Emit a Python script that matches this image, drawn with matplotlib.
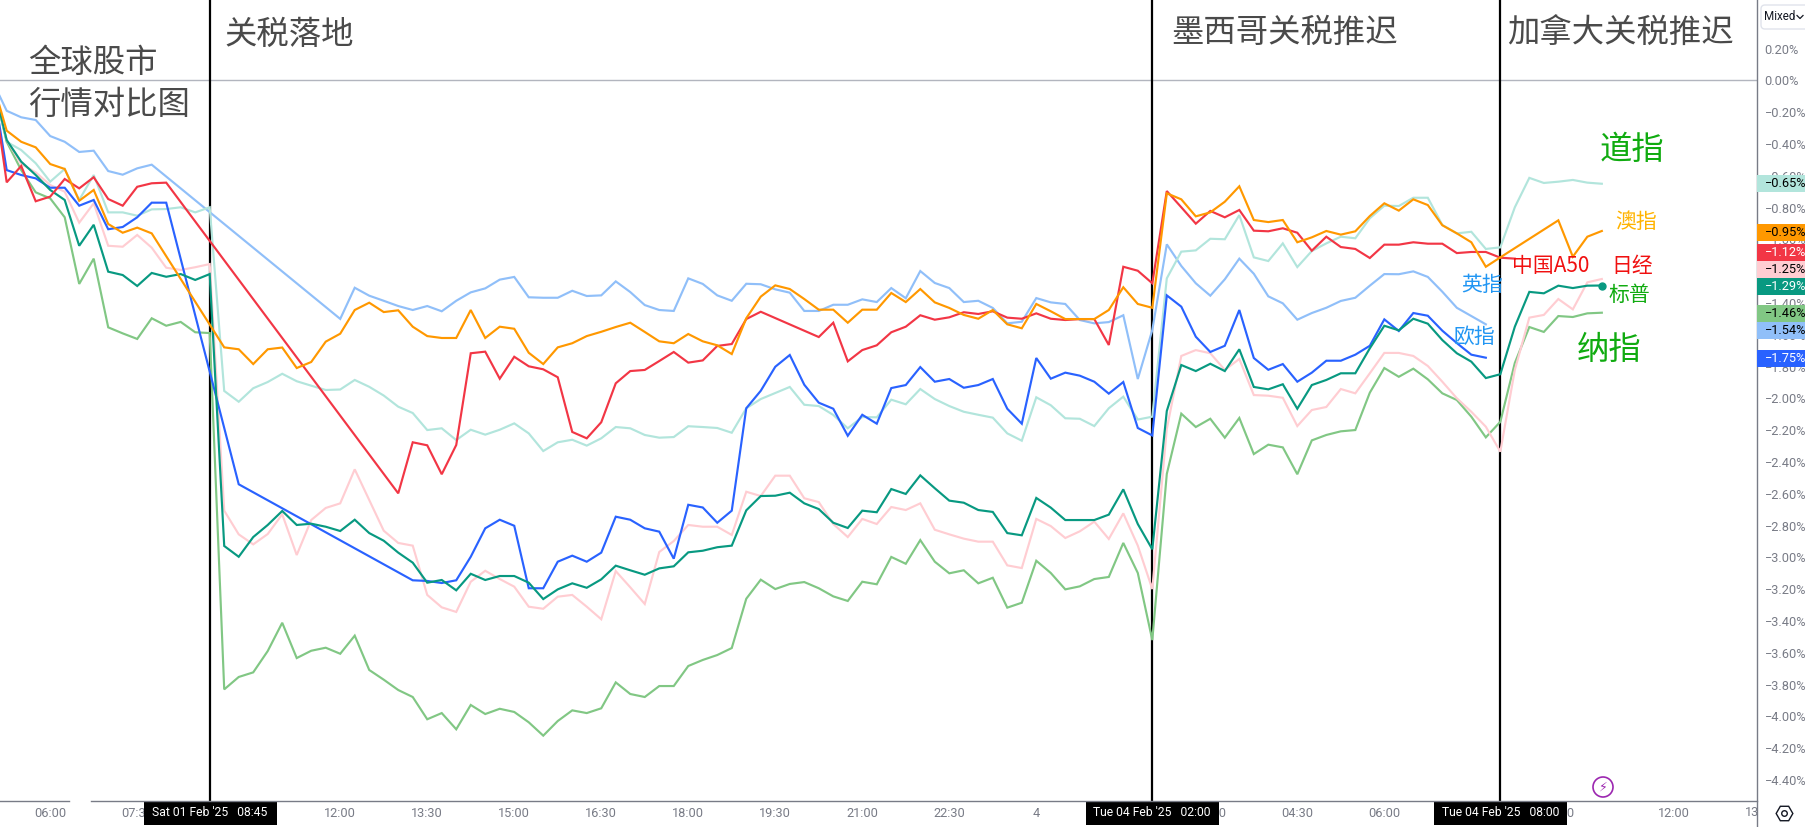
#!/usr/bin/env python3
# -*- coding: utf-8 -*-
"""
Global index comparison, 15 min bars, in % change
"""
import numpy as np
import matplotlib.pyplot as plt
from matplotlib.patches import Rectangle, Circle, FancyBboxPatch

plt.rcParams['font.family'] = ['Noto Sans CJK SC', 'DejaVu Sans']

#%% Values, one per 15 min bar, None = no bar for that market
dow = [0, -.386, -.438, -.521, -.637, -.557, -.752, -.595, -.830, -.830,
       -.851, -.811, -.809, -.798, -.830, -.798, -1.953, -2.021, -1.936, -1.897,
       -1.845, -1.892, -1.920, -1.947, -1.944, -1.884, -1.927, -1.982, -2.052, -2.092,
       -2.199, -2.188, -2.262, -2.197, -2.228, -2.197, -2.157, -2.220, -2.331, -2.276,
       -2.260, -2.297, -2.251, -2.180, -2.188, -2.230, -2.247, -2.243, -2.175, -2.180,
       -2.186, -2.216, -2.062, -2.004, -1.966, -1.928, -2.040, -2.048, -2.104, -2.188,
       -2.117, -2.119, -2.008, -2.037, -1.941, -2.004, -2.048, -2.084, -2.103, -2.121,
       -2.220, -2.266, -1.993, -2.043, -2.125, -2.128, -2.174, -2.062, -1.989, -2.133,
       -2.115, -1.245, -1.077, -1.069, -.996, -.999, -.847, -1.113, -1.136, -1.025,
       -1.174, -1.073, -1.025, -.983, -.993, -.867, -.788, -.790, -.738, -.738,
       -.909, -.962, -.952, -1.060, -1.050, -.798, -.613, -.645, -.637, -.626, -.643, -.650]

asx = [0, -.316, -.386, -.421, -.526, -.557, -.757, -.689, -.903, -.958,
       -.926, -.962, None, None, None, None, -1.679, -1.691, -1.784, -1.691,
       -1.680, -1.809, -1.771, -1.643, -1.593, -1.444, -1.398, -1.457, -1.446, -1.549,
       -1.608, -1.620, -1.620, -1.444, -1.620, -1.549, -1.562, -1.713, -1.784, -1.679,
       -1.653, -1.608, -1.581, -1.551, -1.524, -1.582, -1.641, -1.653, -1.595, -1.641,
       -1.666, -1.721, -1.496, -1.360, -1.289, -1.312, -1.375, -1.442, -1.442, -1.524,
       -1.442, -1.442, -1.337, -1.394, -1.312, -1.396, -1.431, -1.475, -1.499, -1.444,
       -1.534, -1.559, -1.406, -1.452, -1.501, -1.501, -1.501, -1.444, -1.301, -1.406,
       -1.430, -.710, -.748, -.855, -.830, -.763, -.666, -.878, -.891, -.878,
       -1.018, -.987, -.947, -.970, -.949, -.853, -.773, -.819, -.748, -.784,
       -.911, -.962, -1.018, -1.172, -1.113, None, None, None, -.880, -1.109, -.983, -.947]

a50 = [0, -.641, -.538, -.760, -.731, -.620, -.679, -.609, -.746, -.788,
       -.669, -.647, -.643] + [None] * 15 + [-2.597, -2.276,
       -2.295, -2.477, -2.293, -1.716, -1.706, -1.876, -1.738, -1.798, -1.817, -1.867,
       -2.211, -2.251, -2.150, -1.905, -1.828, -1.821, -1.765, -1.708, -1.775, -1.761,
       -1.670, -1.658, -1.501, -1.455, None, None, None, -1.614, -1.524, -1.767,
       -1.696, -1.666, -1.584, -1.549, -1.477, -1.505, -1.490, -1.458, -1.469, -1.452,
       -1.492, -1.499, -1.465, -1.499, -1.507, -1.501, -1.501, -1.664, -1.172, -1.197,
       -1.276, -.696, -.798, -.901, -.821, -.861, -.815, -.945, -.949, -.930,
       -.958, -1.071, -.983, -1.048, -1.060, -1.117, -1.033, -1.033, -1.018, -1.027,
       -1.027, -1.086, -1.079, -1.079, -1.115, -1.121]

nikkei = [0, -.375, -.526, -.578, -.658, -.700, -.895, -.773, -1.040, -1.046,
          -.972, -1.052, -1.178, -1.192, -1.175, -1.155, -2.706, -2.855, -2.918, -2.853,
          -2.729, -2.985, -2.765, -2.689, -2.660, -2.446, -2.639, -2.832, -2.909, -2.926,
          -3.236, -3.314, -3.343, -3.153, -3.084, -3.136, -3.184, -3.310, -3.323, -3.247,
          -3.236, -3.310, -3.389, -3.086, -3.188, -3.293, -2.966, -2.897, -2.796, -2.807,
          -2.807, -2.859, -2.587, -2.614, -2.486, -2.486, -2.628, -2.652, -2.790, -2.872,
          -2.758, -2.790, -2.683, -2.702, -2.660, -2.826, -2.855, -2.882, -2.901, -2.901,
          -3.050, -3.067, -2.758, -2.803, -2.878, -2.836, -2.775, -2.884, -2.723, -2.926,
          -3.199, -2.192, -1.733, -1.696, -1.716, -1.821, -1.752, -1.979, -1.983, -1.996,
          -2.174, -2.073, -2.054, -1.941, -1.968, -1.842, -1.714, -1.714, -1.733, -1.796,
          -1.895, -1.999, -2.084, -2.178, -2.335, -1.821, -1.492, -1.475, -1.375, -1.440, -1.270, -1.249]

spx = [0, -.375, -.511, -.595, -.689, -.752, -1.040, -.908, -1.203, -1.224,
       -1.293, -1.211, -1.235, -1.218, -1.255, -1.218, -2.928, -2.996, -2.872, -2.796,
       -2.708, -2.796, -2.788, -2.807, -2.834, -2.763, -2.847, -2.895, -2.970, -3.033,
       -3.159, -3.142, -3.207, -3.103, -3.142, -3.117, -3.117, -3.159, -3.262, -3.201,
       -3.163, -3.191, -3.138, -3.052, -3.081, -3.109, -3.069, -3.056, -2.968, -2.958,
       -2.936, -2.926, -2.704, -2.614, -2.612, -2.593, -2.660, -2.696, -2.782, -2.815,
       -2.706, -2.716, -2.570, -2.601, -2.484, -2.565, -2.643, -2.656, -2.702, -2.714,
       -2.847, -2.861, -2.626, -2.687, -2.765, -2.765, -2.765, -2.731, -2.572, -2.790,
       -2.949, -2.079, -1.790, -1.828, -1.782, -1.828, -1.691, -1.928, -1.943, -1.911,
       -2.065, -1.916, -1.884, -1.842, -1.842, -1.685, -1.543, -1.572, -1.499, -1.530,
       -1.633, -1.716, -1.769, -1.872, -1.848, -1.549, -1.330, -1.339, -1.291, -1.306, -1.291, -1.290]

nasdaq = [0, -.386, -.564, -.704, -.742, -.861, -1.280, -1.121, -1.553, -1.591,
          -1.626, -1.496, -1.543, -1.519, -1.584, -1.589, -3.830, -3.752, -3.723, -3.589,
          -3.411, -3.633, -3.587, -3.568, -3.606, -3.492, -3.708, -3.769, -3.834, -3.878,
          -4.018, -3.979, -4.081, -3.928, -3.985, -3.952, -3.972, -4.037, -4.121, -4.029,
          -3.962, -3.979, -3.949, -3.786, -3.859, -3.878, -3.809, -3.809, -3.683, -3.645,
          -3.614, -3.570, -3.260, -3.140, -3.199, -3.167, -3.155, -3.194, -3.245, -3.274,
          -3.153, -3.169, -2.997, -3.040, -2.891, -3.027, -3.100, -3.081, -3.163, -3.128,
          -3.316, -3.285, -3.021, -3.098, -3.201, -3.182, -3.136, -3.123, -2.909, -3.098,
          -3.520, -2.475, -2.096, -2.180, -2.128, -2.247, -2.123, -2.350, -2.291, -2.308,
          -2.477, -2.264, -2.230, -2.207, -2.199, -1.964, -1.809, -1.864, -1.813, -1.880,
          -1.968, -2.010, -2.115, -2.245, -2.147, -1.777, -1.551, -1.582, -1.482, -1.488, -1.465, -1.461]

ftse = [0, -.191, -.232, -.249, -.350, -.386, -.450, -.442, -.570, -.593,
        -.553, -.530] + [None] * 12 + [-1.500, -1.304, -1.354, -1.386, -1.419, -1.444,
        -1.419, -1.452, -1.386, -1.333, -1.308, -1.253, -1.236, -1.364, -1.367, -1.367,
        -1.323, -1.356, -1.352, -1.264, -1.331, -1.413, -1.444, -1.450, -1.245, -1.280,
        -1.352, -1.386, -1.279, -1.282, -1.314, -1.335, -1.450, -1.450, -1.411, -1.411,
        -1.377, -1.394, -1.306, -1.370, -1.199, -1.274, -1.306, -1.394, -1.386, -1.431,
        -1.528, -1.518, -1.369, -1.396, -1.406, -1.507, -1.528, -1.520, -1.477, -1.878,
        -1.570, -1.031, -1.167, -1.276, -1.354, -1.251, -1.121, -1.216, -1.358, -1.402,
        -1.505, -1.463, -1.430, -1.387, -1.367, -1.291, -1.218, -1.219, -1.201, -1.236,
        -1.329, -1.430, -1.482, -1.534]

stoxx = [0, -.564, -.595, -.616, -.675, -.675, -.788, -.752, -.936, -.922,
         -.861, -.769, -.769, None, None, None, None, -2.540] + [None] * 11 + [-3.144,
         -3.148, -3.161, -3.144, -2.996, -2.817, -2.763, -2.801, -3.194, -3.194, -3.027,
         -2.989, -3.027, -2.970, -2.744, -2.763, -2.817, -2.838, -3.008, -2.669, -2.686,
         -2.782, -2.706, -2.062, -1.952, -1.801, -1.727, -1.914, -2.027, -2.065, -2.235,
         -2.103, -2.159, -1.935, -1.916, -1.803, -1.895, -1.878, -1.933, -1.916, -1.878,
         -2.065, -2.159, -1.746, -1.876, -1.838, -1.857, -1.895, -1.970, -1.897, -2.186,
         -2.233, -1.352, -1.423, -1.612, -1.708, -1.669, -1.444, -1.746, -1.820, -1.784,
         -1.895, -1.838, -1.763, -1.763, -1.725, -1.669, -1.503, -1.576, -1.463, -1.480,
         -1.574, -1.652, -1.725, -1.744]

# bar number of the labelled times on the time axis
tick_bars = [4, 10, 16, 24, 30, 36, 42, 48, 54, 60, 66, 72, 84, 90, 96, 102, 108, 116]
tick_names = ['06:00', '07:30', '09:00', '12:00', '13:30', '15:00', '16:30', '18:00', '19:30',
              '21:00', '22:30', '4', '03:00', '04:30', '06:00', '07:30', '09:00', '12:00']
event_bars = [15, 80, 104]
event_names = ["Sat 01 Feb '25   08:45", "Tue 04 Feb '25   02:00", "Tue 04 Feb '25   08:00"]
last_values = ['-0.65%', '-0.95%', '-1.12%', '-1.25%', '-1.29%', '-1.46%', '-1.54%', '-1.75%']

#%% Styles, bottom to top
series = [(ftse, '#90bff9'), (dow, '#b2e5dc'), (nasdaq, '#81c784'), (nikkei, '#ffcdd2'),
          (stoxx, '#2962ff'), (spx, '#089981'), (a50, '#f23645'), (asx, '#ff9800')]
pills = [('#b2e5dc', 'black', 183.5), ('#ff9800', 'black', 232.5), ('#f23645', 'white', 252.5),
         ('#ffcdd2', 'black', 269.5), ('#089981', 'white', 286.5), ('#81c784', 'black', 313.5),
         ('#90bff9', 'black', 330.5), ('#2962ff', 'white', 358.5)]
W, H = 1806, 827
AXR, AXB = 1757, 801  # right and bottom edge of the plot, in pixels
grey = '#787b86'

fig = plt.figure(figsize=(W / 100, H / 100), dpi=100)
ax = fig.add_axes([0, (H - AXB) / H, AXR / W, AXB / H])

ax.axhline(0, color='#b2b5be', lw=1.0, zorder=1)
for b in event_bars:
    ax.axvline(b, color='black', lw=1.6, zorder=1.5)

for vals, col in series:
    xs = [i for i, v in enumerate(vals) if v is not None]
    ys = [v for v in vals if v is not None]
    ax.plot(xs, ys, color=col, lw=1.55, zorder=2, solid_joinstyle='miter')
ax.plot(len(spx) - 1, spx[-1], 'o', color='#089981', ms=5, zorder=3)

for s in ax.spines.values():
    s.set_visible(False)
ax.yaxis.tick_right()
yt = np.round(np.arange(-4.4, 0.21, 0.2), 1)
ax.set_yticks(yt)
ax.set_yticklabels([('%.2f%%' % v).replace('-', '\u2212') for v in yt], family='Roboto',
                   fontsize=9.2, color=grey)
ax.tick_params(axis='y', length=0, pad=5.5)
ax.set_xticks(tick_bars)
ax.set_xticklabels(tick_names, family='Roboto', fontsize=9.2, color=grey)
ax.tick_params(axis='x', length=0, pad=4)
# limits last, set_xticks would widen them otherwise
ax.set_xlim(0.538, 121.7)
ax.set_ylim(-4.532, 0.5057)

#%% Things drawn on top, in pixel coordinates
ov = fig.add_axes([0, 0, 1, 1], zorder=5)
ov.set_xlim(0, W)
ov.set_ylim(H, 0)
ov.axis('off')

# next time label runs under the price axis and gets cut there
ov.text(-7.8 + 14.5 * 122, 812, '13:30', family='Roboto', fontsize=9.2, color=grey,
        ha='center', va='center', zorder=1)
ov.add_patch(Rectangle((AXR, AXB), W - AXR, H - AXB, fc='white', ec='none', zorder=1.5))

# time axis line has a small hole, as in the screenshot
ov.plot([0, 69], [AXB, AXB], color=grey, lw=1)
ov.plot([91, AXR], [AXB, AXB], color=grey, lw=1)
ov.plot([AXR, AXR], [0, H], color=grey, lw=1)

for b, name in zip(event_bars, event_names):
    px = -7.8 + 14.5 * b
    ov.add_patch(Rectangle((px - 66, AXB), 133, 24, fc='black', ec='none'))
    ov.text(px, AXB + 12, name, family='Roboto', fontsize=8.7, color='white', ha='center',
            va='center')

for (fc, tc, py), lab in zip(pills, last_values):
    ov.add_patch(Rectangle((AXR + 0.5, py - 8.5), W - AXR, 17, fc=fc, ec='none', zorder=3))
    ov.text(1764.5, py, lab.replace('-', '\u2212'), family='Roboto', fontsize=9.2, color=tc,
            va='center', zorder=4)

# Mixed button
ov.add_patch(FancyBboxPatch((1761, 5), 60, 24, boxstyle='round,pad=0,rounding_size=4',
                            fc='white', ec='#e0e3eb', lw=1))
ov.text(1764, 17, 'Mixed', family='Roboto', fontsize=8.4, color='#131722', va='center')
ov.plot([1797, 1800, 1803], [15.5, 18.5, 15.5], color='#131722', lw=0.9)

# titles and names
dark = '#4a4a4a'
for txt, px, py in [('全球股市', 28.5, 62.5), ('行情对比图', 28.5, 104.5), ('关税落地', 224, 35),
                    ('墨西哥关税推迟', 1171, 33), ('加拿大关税推迟', 1507.5, 34)]:
    ov.text(px, py, txt, fontsize=23.3, color=dark, va='center')
names = [('道指', 1600, 150, 23.3, '#10ab10'), ('纳指', 1577, 349.5, 23.3, '#10ab10'),
         ('澳指', 1615.5, 222, 15, '#ffb300'), ('中国A50', 1512.5, 266, 15, '#f01010'),
         ('日经', 1611.5, 266, 15, '#f01010'), ('英指', 1461.5, 285, 15, '#2196f3'),
         ('欧指', 1453.5, 337, 15, '#2196f3'), ('标普', 1608.5, 295, 15, '#10ab10')]
for txt, px, py, fs, col in names:
    ov.text(px, py, txt, fontsize=fs, color=col, va='center')

# bolt and settings icons
ov.add_patch(Circle((1603, 787), 10, fc='white', ec='#9c27b0', lw=1.2))
ov.text(1603, 787, '\u26a1', family='DejaVu Sans', fontsize=9, color='#9c27b0', ha='center',
        va='center')
ov.plot(1784, 813, 'H', mfc='white', mec='#131722', mew=1, ms=12)
ov.plot(1784, 813, 'o', mfc='white', mec='#131722', mew=1, ms=4)

fig.savefig('out.png', dpi=100)
